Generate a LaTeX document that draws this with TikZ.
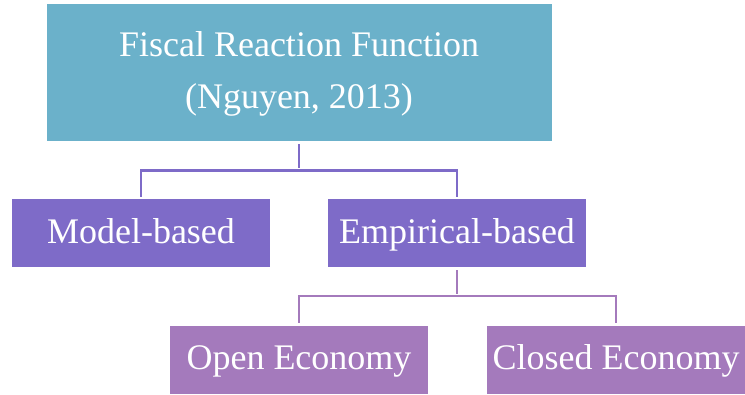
\documentclass[tikz,border=0pt]{standalone}
\usepackage{fontspec}
\setmainfont{Liberation Serif}
\usetikzlibrary{positioning}
\definecolor{fiscalteal}{HTML}{6BB1CA}
\definecolor{basedpurple}{HTML}{7E6BC8}
\definecolor{economylilac}{HTML}{A47ABC}

\begin{document}
\begin{tikzpicture}[
    x=1pt, y=-1pt,
    box/.style={rectangle, inner sep=0pt, text=white, font=\fontsize{36}{52}\selectfont, text height=27pt, text depth=7pt},
    topbox/.style={box, fill=fiscalteal, minimum width=505pt, minimum height=137pt, align=center, text height=79pt, text depth=8pt},
    levelone/.style={box, fill=basedpurple, minimum width=258pt, minimum height=68pt},
    leveltwo/.style={box, fill=economylilac, minimum width=258pt, minimum height=68pt},
    link/.style={draw, line width=2.7pt, shorten <=3pt, shorten >=2pt}
    ]
\useasboundingbox (0,0) rectangle (745,394);

\node[topbox] (frf) at (299,72.5) {Fiscal Reaction Function\\(Nguyen, 2013)};
    %first level
\node[levelone] (model) at (141,233) {Model-based};
\node[levelone] (empirical) at (457,233) {Empirical-based};
    %second level
\node[leveltwo] (open) at (299,359.5) {Open Economy};
\node[leveltwo] (closed) at (616,359.5) {Closed Economy};

\coordinate (split1) at (299,170.3);
\coordinate (split2) at (457,296);

\draw[link, basedpurple] (frf.south) -- (split1);
\draw[link, basedpurple, shorten <=0pt] (split1) -| (model.north);
\draw[link, basedpurple, shorten <=0pt] (split1) -| (empirical.north);
\draw[link, economylilac] (empirical.south) -- (split2);
\draw[link, economylilac, shorten <=0pt] (split2) -| (open.north);
\draw[link, economylilac, shorten <=0pt] (split2) -| (closed.north);
\end{tikzpicture}
\end{document}
